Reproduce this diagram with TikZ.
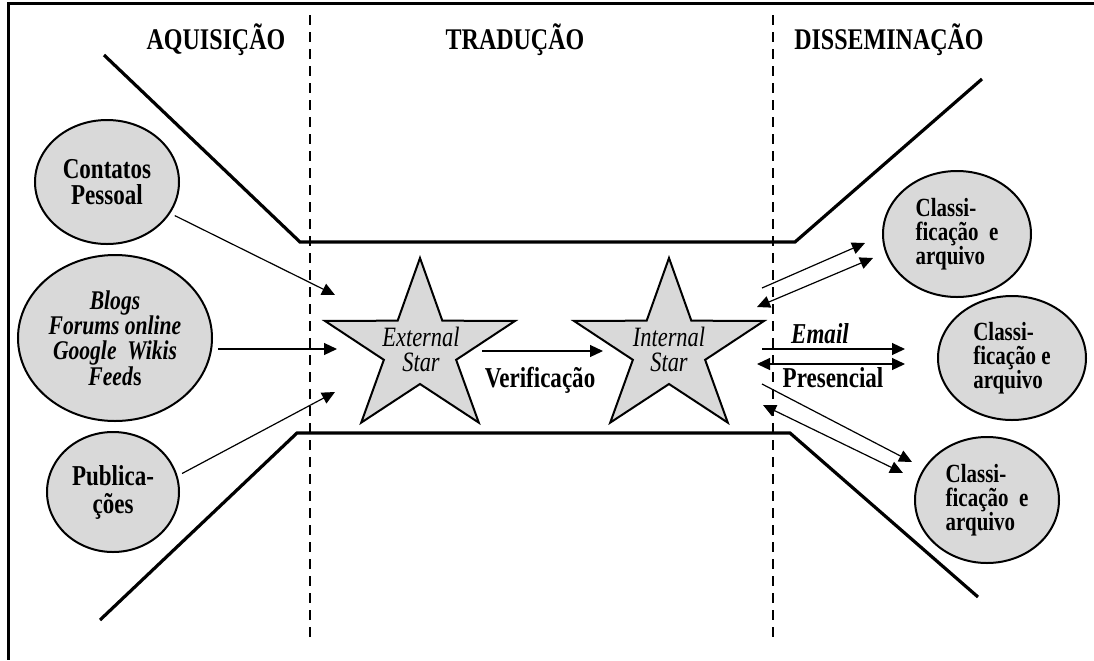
\documentclass[tikz,border=0pt]{standalone}
\usepackage{fontspec}
\setmainfont{Liberation Serif}[FakeStretch=0.8]
\definecolor{bubblegray}{RGB}{217,217,217}
\usetikzlibrary{arrows.meta,shapes.geometric}

\begin{document}
\begin{tikzpicture}[x=0.5pt,y=0.5pt,yscale=-1,
	bubble/.style={ellipse,draw=black,fill=bubblegray,line width=1pt,inner sep=0pt,outer sep=3pt,align=center},
	starline/.style={draw=black,fill=bubblegray,line width=1pt,line join=miter},
	arr/.style={line width=0.6pt,-{Triangle[length=6.5pt,width=6pt]}},
	arrboth/.style={line width=0.6pt,{Triangle[length=6.5pt,width=6pt]}-{Triangle[length=6.5pt,width=6pt]}},
	funnel/.style={line width=1.6pt},
	divider/.style={line width=0.7pt,dash pattern=on 5pt off 3.5pt},
	heading/.style={anchor=base,font=\fontsize{15}{17}\selectfont\bfseries},
	label/.style={anchor=base,font=\fontsize{14.4}{16}\selectfont\bfseries}]
	\useasboundingbox (0,0) rectangle (1094,660);
	
	% frame
	\draw [line width=1.5pt] (1094,3) -- (8,3) -- (8,660);
	
	% phase dividers
	\draw [divider] (310,15) -- (310,640);
	\draw [divider] (773,15) -- (773,640);
	
	% headings
	\node [heading] (hAq) at (216,49) {AQUISIÇÃO};
	\node [heading] (hTr) at (515,49) {TRADUÇÃO};
	\node [heading] (hDi) at (889,49) {DISSEMINAÇÃO};
	
	% funnel
	\draw [funnel] (104,55) -- (300,242) -- (795,242) -- (982,79);
	\draw [funnel] (100,620) -- (297,433) -- (790,433) -- (978,597);
	
	% sources
	\node [bubble,minimum width=72pt,minimum height=62pt,font=\fontsize{14.4}{13.3}\selectfont\bfseries] (contatos) at (107,182) {Contatos\\Pessoal};
	\node [bubble,minimum width=97pt,minimum height=83pt,font=\fontsize{13.5}{12.6}\selectfont\bfseries\itshape] (blogs) at (115,338) {Blogs\\Forums online\\Google\ \ Wikis\\Feed\textup{s}};
	\node [bubble,minimum width=66pt,minimum height=60pt,font=\fontsize{14.4}{14}\selectfont\bfseries] (publ) at (113,492) {Publica-\\ções};
	
	% stars
	\draw [starline,shift={(420,349)}] (-90:100 and 91) \foreach \a in {-90,-18,54,126,198} { -- (\a+36:38 and 35) -- (\a+72:100 and 91) } -- cycle;
	\draw [starline,shift={(669,349)}] (-90:100 and 91) \foreach \a in {-90,-18,54,126,198} { -- (\a+36:38 and 35) -- (\a+72:100 and 91) } -- cycle;
	\node [align=center,font=\fontsize{14}{12.5}\selectfont\itshape] (ext) at (421,349) {External\\Star};
	\node [align=center,font=\fontsize{14}{12.5}\selectfont\itshape] (int) at (669,349) {Internal\\Star};
	
	% targets
	\node [bubble,minimum width=74pt,minimum height=63pt,align=left,font=\fontsize{13.1}{12}\selectfont\bfseries] (clA) at (957,234) {Classi-\\ficação\ \ e\\arquivo};
	\node [bubble,minimum width=74pt,minimum height=62pt,align=left,font=\fontsize{13.1}{12}\selectfont\bfseries] (clB) at (1012,358) {Classi-\\ficação e\\arquivo};
	\node [bubble,minimum width=72pt,minimum height=63pt,align=left,font=\fontsize{13.1}{12}\selectfont\bfseries] (clC) at (987,500) {Classi-\\ficação\ \ e\\arquivo};
	
	% ends of the connectors
	\coordinate (inA) at (335,295);
	\coordinate (inB) at (337,349);
	\coordinate (inC) at (335,392);
	\coordinate (vrA) at (482,351);
	\coordinate (vrB) at (603,351);
	\coordinate (upA) at (762,288);
	\coordinate (upB) at (865,243);
	\coordinate (upC) at (757,307);
	\coordinate (upD) at (873,258);
	\coordinate (mdA) at (762,349);
	\coordinate (mdB) at (905,349);
	\coordinate (mdC) at (757,364);
	\coordinate (mdD) at (905,364);
	\coordinate (dnA) at (762,384);
	\coordinate (dnB) at (912,462);
	\coordinate (dnC) at (763,405);
	\coordinate (dnD) at (903,473);
	
	% acquisition
	\draw [arr] (contatos) -- (inA);
	\draw [arr] (blogs.east |- inB) -- (inB);
	\draw [arr] (publ.15) -- (inC);
	
	% translation
	\draw [arr] (vrA) -- (vrB);
	\node [label] (verif) at (540,387) {Verificação};
	
	% dissemination
	\draw [arr] (upA) -- (upB);
	\draw [arrboth] (upC) -- (upD);
	\draw [arr] (mdA) -- (mdB);
	\draw [arrboth] (mdC) -- (mdD);
	\draw [arr] (dnA) -- (dnB);
	\draw [arrboth] (dnC) -- (dnD);
	\node [label,font=\fontsize{14.4}{16}\selectfont\bfseries\itshape] (email) at (820,343) {Email};
	\node [label] (pres) at (833,387) {Presencial};
	
\end{tikzpicture}
\end{document}
